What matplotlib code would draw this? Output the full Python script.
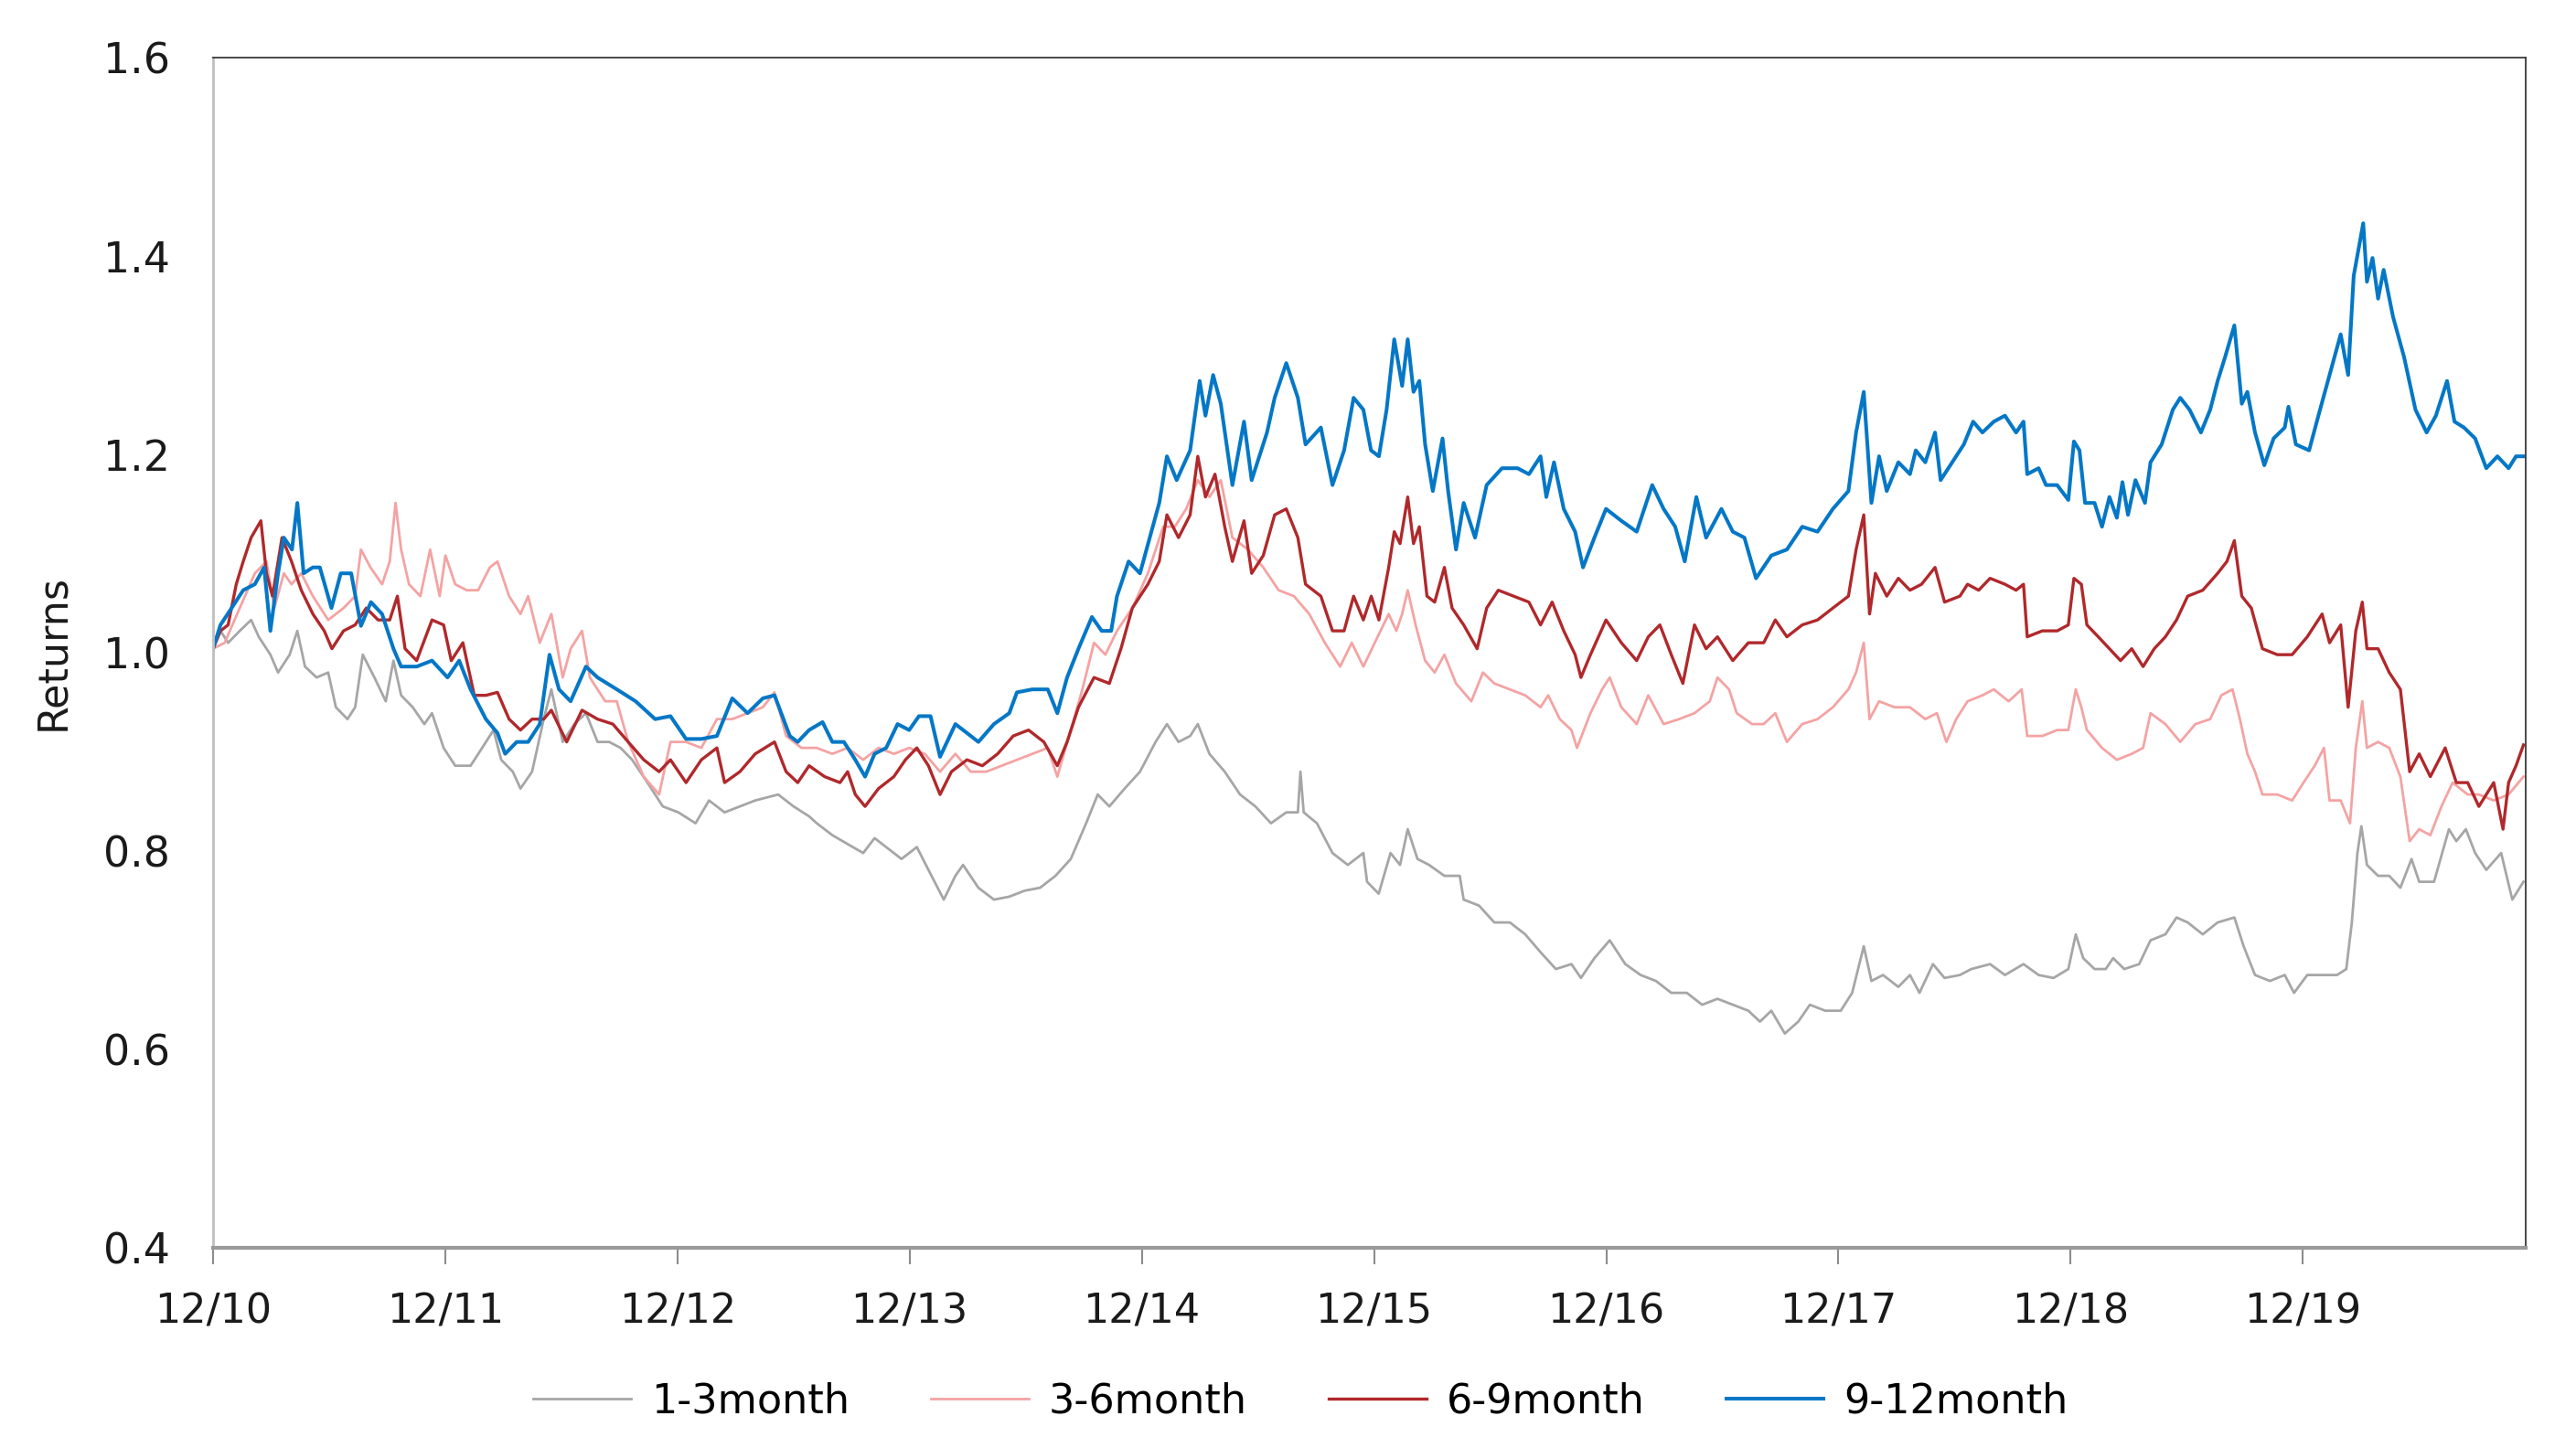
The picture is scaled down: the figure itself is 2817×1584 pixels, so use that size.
import matplotlib.pyplot as plt

# years since Dec 2010
t_13 = [0, .032, .065, .115, .164, .197, .247, .28, .33, .363, .396, .446, .496, .529, .579, .612, .645, .695,
        .744, .777, .81, .86, .91, .943, .993, 1.043, 1.109, 1.159, 1.208, 1.241, 1.291, 1.324, 1.374, 1.424,
        1.457, 1.506, 1.556, 1.606, 1.656, 1.706, 1.755, 1.805, 1.871, 1.937, 2.004, 2.078, 2.136, 2.203, 2.269,
        2.335, 2.434, 2.5, 2.567, 2.6, 2.667, 2.733, 2.8, 2.849, 2.899, 2.965, 3.031, 3.081, 3.147, 3.197, 3.23,
        3.296, 3.363, 3.429, 3.495, 3.562, 3.628, 3.694, 3.76, 3.81, 3.86, 3.926, 3.992, 4.059, 4.108, 4.158,
        4.208, 4.241, 4.291, 4.357, 4.423, 4.489, 4.556, 4.622, 4.672, 4.683, 4.697, 4.754, 4.821, 4.887, 4.954,
        4.97, 5.02, 5.071, 5.112, 5.145, 5.187, 5.237, 5.303, 5.369, 5.386, 5.452, 5.518, 5.585, 5.651, 5.717,
        5.783, 5.85, 5.891, 5.949, 6.015, 6.082, 6.148, 6.214, 6.28, 6.347, 6.413, 6.479, 6.545, 6.612, 6.662,
        6.711, 6.769, 6.827, 6.877, 6.943, 7.01, 7.059, 7.109, 7.142, 7.192, 7.258, 7.308, 7.349, 7.407, 7.457,
        7.523, 7.572, 7.653, 7.717, 7.797, 7.862, 7.926, 7.99, 8.022, 8.054, 8.103, 8.151, 8.183, 8.231, 8.295,
        8.344, 8.408, 8.456, 8.504, 8.569, 8.633, 8.705, 8.745, 8.794, 8.858, 8.922, 8.962, 9.019, 9.083, 9.147,
        9.187, 9.211, 9.235, 9.252, 9.276, 9.324, 9.372, 9.42, 9.468, 9.501, 9.565, 9.629, 9.661, 9.702, 9.742,
        9.79, 9.854, 9.902, 9.95]
v_13 = [1.004, 1.022, 1.01, 1.022, 1.033, 1.016, .998, .98, .998, 1.022, .986, .975, .98, .945, .933, .945, .998,
        .975, .951, .992, .957, .945, .928, .939, .904, .886, .886, .904, .922, .892, .88, .863, .88, .933, .963,
        .91, .928, .939, .91, .91, .904, .892, .869, .845, .839, .828, .851, .839, .845, .851, .857, .845, .835,
        .828, .816, .807, .798, .813, .804, .792, .804, .781, .751, .775, .786, .763, .751, .754, .76, .763, .775,
        .792, .828, .857, .845, .863, .88, .91, .928, .91, .916, .928, .898, .88, .857, .845, .828, .839, .839,
        .88, .839, .828, .798, .786, .798, .769, .757, .798, .786, .822, .792, .786, .775, .775, .751, .745, .728,
        .728, .716, .698, .681, .686, .672, .692, .71, .686, .675, .669, .657, .657, .645, .651, .645, .639, .628,
        .639, .616, .628, .645, .639, .639, .657, .704, .669, .675, .663, .675, .657, .686, .672, .675, .681, .686,
        .675, .686, .675, .672, .681, .716, .692, .681, .681, .692, .681, .686, .71, .716, .733, .728, .716, .728,
        .733, .704, .675, .669, .675, .657, .675, .675, .675, .681, .728, .798, .825, .786, .775, .775, .763, .792,
        .769, .769, .822, .81, .822, .798, .781, .798, .751, .769]

t_36 = [0, .05, .115, .18, .23, .264, .305, .338, .38, .43, .496, .562, .612, .637, .678, .728, .761, .786, .81,
        .844, .893, .935, .976, 1.001, 1.043, 1.092, 1.142, 1.192, 1.225, 1.275, 1.324, 1.357, 1.407, 1.457,
        1.506, 1.54, 1.589, 1.623, 1.689, 1.739, 1.788, 1.855, 1.921, 1.97, 2.037, 2.103, 2.17, 2.236, 2.302,
        2.368, 2.418, 2.468, 2.534, 2.6, 2.667, 2.733, 2.8, 2.866, 2.932, 2.998, 3.065, 3.131, 3.197, 3.263,
        3.33, 3.396, 3.462, 3.528, 3.595, 3.636, 3.694, 3.744, 3.794, 3.843, 3.893, 3.959, 4.026, 4.092, 4.142,
        4.191, 4.241, 4.291, 4.34, 4.39, 4.457, 4.523, 4.589, 4.655, 4.721, 4.788, 4.854, 4.904, 4.954, 5.003,
        5.063, 5.096, 5.121, 5.145, 5.179, 5.22, 5.261, 5.303, 5.353, 5.419, 5.469, 5.518, 5.585, 5.651, 5.717,
        5.75, 5.8, 5.85, 5.874, 5.932, 5.982, 6.015, 6.065, 6.131, 6.181, 6.247, 6.314, 6.38, 6.446, 6.479,
        6.529, 6.562, 6.628, 6.678, 6.728, 6.778, 6.844, 6.91, 6.976, 7.043, 7.076, 7.109, 7.134, 7.175, 7.241,
        7.308, 7.374, 7.424, 7.465, 7.507, 7.556, 7.62, 7.669, 7.733, 7.789, 7.813, 7.878, 7.942, 7.99, 8.022,
        8.046, 8.07, 8.135, 8.199, 8.263, 8.312, 8.344, 8.408, 8.472, 8.537, 8.601, 8.649, 8.697, 8.729, 8.761,
        8.794, 8.826, 8.89, 8.954, 9.003, 9.051, 9.091, 9.115, 9.163, 9.203, 9.228, 9.256, 9.276, 9.324, 9.372,
        9.42, 9.46, 9.501, 9.549, 9.597, 9.645, 9.71, 9.758, 9.822, 9.886, 9.95]
v_36 = [1.004, 1.01, 1.045, 1.08, 1.092, 1.045, 1.08, 1.069, 1.08, 1.057, 1.033, 1.045, 1.057, 1.104, 1.086,
        1.069, 1.092, 1.151, 1.104, 1.069, 1.057, 1.104, 1.057, 1.098, 1.069, 1.063, 1.063, 1.086, 1.092, 1.057,
        1.039, 1.057, 1.01, 1.039, .975, 1.004, 1.022, .975, .951, .951, .91, .875, .857, .91, .91, .904, .933,
        .933, .939, .945, .96, .916, .904, .904, .898, .904, .892, .904, .898, .904, .898, .88, .898, .88, .88,
        .886, .892, .898, .904, .875, .922, .963, 1.01, .998, 1.022, 1.045, 1.08, 1.127, 1.127, 1.145, 1.174,
        1.157, 1.174, 1.116, 1.104, 1.086, 1.063, 1.057, 1.039, 1.01, .986, 1.01, .986, 1.01, 1.039, 1.022,
        1.039, 1.063, 1.028, .992, .98, .998, .969, .951, .98, .969, .963, .957, .945, .957, .933, .922, .904,
        .939, .963, .975, .945, .928, .957, .928, .933, .939, .951, .975, .963, .939, .928, .928, .939, .91, .928,
        .933, .945, .963, .98, 1.01, .933, .951, .945, .945, .933, .939, .91, .933, .951, .957, .963, .951, .963,
        .916, .916, .922, .922, .963, .945, .922, .904, .892, .898, .904, .939, .928, .91, .928, .933, .957, .963,
        .933, .898, .88, .857, .857, .851, .869, .886, .904, .851, .851, .828, .904, .951, .904, .91, .904, .875,
        .81, .822, .816, .845, .869, .857, .857, .851, .857, .875]

t_69 = [0, .032, .065, .1, .13, .164, .206, .23, .256, .297, .338, .38, .43, .479, .512, .562, .612, .66, .711,
        .761, .794, .827, .877, .943, .993, 1.026, 1.076, 1.125, 1.175, 1.225, 1.275, 1.324, 1.374, 1.424, 1.457,
        1.523, 1.589, 1.656, 1.722, 1.788, 1.855, 1.921, 1.97, 2.037, 2.103, 2.17, 2.203, 2.269, 2.335, 2.418,
        2.468, 2.518, 2.567, 2.634, 2.7, 2.733, 2.766, 2.808, 2.866, 2.932, 2.982, 3.031, 3.081, 3.131, 3.18,
        3.247, 3.313, 3.379, 3.446, 3.512, 3.578, 3.636, 3.678, 3.727, 3.794, 3.86, 3.91, 3.959, 4.026, 4.075,
        4.108, 4.158, 4.208, 4.241, 4.274, 4.315, 4.357, 4.39, 4.44, 4.473, 4.523, 4.572, 4.622, 4.672, 4.705,
        4.771, 4.821, 4.871, 4.912, 4.954, 4.988, 5.021, 5.063, 5.087, 5.112, 5.145, 5.17, 5.195, 5.228, 5.261,
        5.303, 5.336, 5.386, 5.444, 5.485, 5.535, 5.601, 5.667, 5.717, 5.767, 5.817, 5.866, 5.891, 5.932, 5.999,
        6.065, 6.131, 6.181, 6.231, 6.28, 6.33, 6.38, 6.43, 6.479, 6.545, 6.612, 6.678, 6.728, 6.778, 6.844,
        6.91, 6.976, 7.043, 7.076, 7.109, 7.134, 7.159, 7.208, 7.258, 7.308, 7.358, 7.416, 7.457, 7.523, 7.556,
        7.604, 7.653, 7.717, 7.765, 7.797, 7.813, 7.878, 7.942, 7.99, 8.014, 8.046, 8.07, 8.119, 8.167, 8.215,
        8.263, 8.312, 8.36, 8.408, 8.456, 8.504, 8.569, 8.633, 8.673, 8.705, 8.737, 8.778, 8.826, 8.89, 8.954,
        9.019, 9.083, 9.115, 9.163, 9.195, 9.228, 9.256, 9.276, 9.324, 9.372, 9.42, 9.46, 9.501, 9.549, 9.613,
        9.661, 9.71, 9.758, 9.822, 9.862, 9.886, 9.918, 9.95]
v_69 = [1.004, 1.022, 1.028, 1.069, 1.092, 1.116, 1.133, 1.08, 1.057, 1.116, 1.092, 1.063, 1.039, 1.022, 1.004,
        1.022, 1.028, 1.045, 1.033, 1.033, 1.057, 1.004, .992, 1.033, 1.028, .992, 1.01, .957, .957, .96, .933,
        .922, .933, .933, .942, .91, .942, .933, .928, .91, .892, .88, .892, .869, .892, .904, .869, .88, .898,
        .91, .88, .869, .886, .875, .869, .88, .857, .845, .863, .875, .892, .904, .886, .857, .88, .892, .886,
        .898, .916, .922, .91, .886, .91, .945, .975, .969, 1.004, 1.045, 1.069, 1.092, 1.139, 1.116, 1.139,
        1.198, 1.157, 1.18, 1.127, 1.092, 1.133, 1.08, 1.098, 1.139, 1.145, 1.116, 1.069, 1.057, 1.022, 1.022,
        1.057, 1.033, 1.057, 1.033, 1.086, 1.122, 1.11, 1.157, 1.11, 1.127, 1.057, 1.051, 1.086, 1.045, 1.028,
        1.004, 1.045, 1.063, 1.057, 1.051, 1.028, 1.051, 1.022, .998, .975, .998, 1.033, 1.01, .992, 1.016,
        1.028, .998, .969, 1.028, 1.004, 1.016, .992, 1.01, 1.01, 1.033, 1.016, 1.028, 1.033, 1.045, 1.057,
        1.104, 1.139, 1.039, 1.08, 1.057, 1.075, 1.063, 1.069, 1.086, 1.051, 1.057, 1.069, 1.063, 1.075, 1.069,
        1.063, 1.069, 1.016, 1.022, 1.022, 1.028, 1.075, 1.069, 1.028, 1.016, 1.004, .992, 1.004, .986, 1.004,
        1.016, 1.033, 1.057, 1.063, 1.08, 1.092, 1.113, 1.057, 1.045, 1.004, .998, .998, 1.016, 1.039, 1.01,
        1.028, .945, 1.022, 1.051, 1.004, 1.004, .98, .963, .88, .898, .875, .904, .869, .869, .845, .869, .822,
        .869, .886, .907]

t_912 = [0, .032, .08, .13, .18, .22, .247, .28, .305, .34, .363, .39, .43, .46, .51, .55, .595, .637, .68, .728,
         .777, .81, .877, .943, 1.01, 1.06, 1.109, 1.175, 1.225, 1.258, 1.308, 1.357, 1.407, 1.449, 1.49, 1.54,
         1.606, 1.656, 1.739, 1.82, 1.904, 1.97, 2.037, 2.103, 2.17, 2.236, 2.302, 2.368, 2.418, 2.484, 2.518,
         2.567, 2.625, 2.667, 2.717, 2.766, 2.808, 2.849, 2.899, 2.948, 2.998, 3.04, 3.09, 3.131, 3.197, 3.247,
         3.296, 3.363, 3.429, 3.462, 3.528, 3.595, 3.636, 3.678, 3.727, 3.785, 3.827, 3.868, 3.893, 3.943, 3.992,
         4.034, 4.075, 4.108, 4.15, 4.208, 4.249, 4.274, 4.307, 4.34, 4.39, 4.44, 4.473, 4.539, 4.572, 4.622,
         4.672, 4.705, 4.771, 4.821, 4.871, 4.912, 4.954, 4.987, 5.021, 5.054, 5.087, 5.121, 5.145, 5.17, 5.195,
         5.22, 5.253, 5.295, 5.319, 5.353, 5.386, 5.435, 5.485, 5.551, 5.618, 5.667, 5.717, 5.742, 5.775, 5.817,
         5.866, 5.9, 5.949, 5.999, 6.065, 6.131, 6.198, 6.247, 6.297, 6.338, 6.388, 6.43, 6.496, 6.545, 6.595,
         6.645, 6.711, 6.778, 6.844, 6.91, 6.976, 7.043, 7.076, 7.109, 7.142, 7.175, 7.208, 7.258, 7.308, 7.333,
         7.374, 7.416, 7.44, 7.49, 7.54, 7.58, 7.62, 7.669, 7.717, 7.765, 7.797, 7.813, 7.862, 7.894, 7.942,
         7.99, 8.014, 8.038, 8.062, 8.103, 8.135, 8.167, 8.199, 8.223, 8.247, 8.279, 8.32, 8.344, 8.392, 8.44,
         8.472, 8.512, 8.561, 8.601, 8.633, 8.665, 8.705, 8.737, 8.761, 8.794, 8.834, 8.874, 8.922, 8.938, 8.97,
         9.027, 9.067, 9.115, 9.163, 9.195, 9.219, 9.26, 9.276, 9.3, 9.324, 9.348, 9.388, 9.436, 9.485, 9.533,
         9.573, 9.621, 9.653, 9.694, 9.742, 9.79, 9.838, 9.886, 9.918, 9.95]
v_912 = [1.004, 1.028, 1.045, 1.063, 1.069, 1.086, 1.022, 1.08, 1.116, 1.104, 1.151, 1.08, 1.086, 1.086, 1.045,
         1.08, 1.08, 1.027, 1.051, 1.039, 1.004, .986, .986, .992, .975, .992, .963, .933, .919, .898, .91, .91,
         .928, .998, .963, .951, .986, .975, .963, .951, .933, .936, .913, .913, .916, .954, .939, .954, .957,
         .916, .91, .922, .93, .91, .91, .892, .875, .898, .904, .928, .922, .936, .936, .895, .928, .919, .91,
         .928, .939, .96, .963, .963, .939, .975, 1.004, 1.036, 1.022, 1.022, 1.057, 1.092, 1.08, 1.116, 1.151,
         1.198, 1.174, 1.204, 1.274, 1.239, 1.28, 1.251, 1.169, 1.233, 1.174, 1.222, 1.257, 1.292, 1.257, 1.21,
         1.227, 1.169, 1.204, 1.257, 1.245, 1.204, 1.198, 1.245, 1.316, 1.269, 1.316, 1.263, 1.274, 1.21, 1.163,
         1.216, 1.163, 1.104, 1.151, 1.116, 1.169, 1.186, 1.186, 1.18, 1.198, 1.157, 1.192, 1.145, 1.122, 1.086,
         1.116, 1.145, 1.133, 1.122, 1.169, 1.145, 1.127, 1.092, 1.157, 1.116, 1.145, 1.122, 1.116, 1.075, 1.098,
         1.104, 1.127, 1.122, 1.145, 1.163, 1.222, 1.263, 1.151, 1.198, 1.163, 1.192, 1.18, 1.204, 1.192, 1.222,
         1.174, 1.192, 1.21, 1.233, 1.222, 1.233, 1.239, 1.222, 1.233, 1.18, 1.186, 1.169, 1.169, 1.154, 1.213,
         1.204, 1.151, 1.151, 1.127, 1.157, 1.136, 1.172, 1.139, 1.174, 1.151, 1.192, 1.21, 1.245, 1.257, 1.245,
         1.222, 1.245, 1.274, 1.298, 1.33, 1.251, 1.263, 1.222, 1.189, 1.216, 1.227, 1.248, 1.21, 1.204, 1.239,
         1.28, 1.321, 1.28, 1.38, 1.433, 1.374, 1.398, 1.357, 1.386, 1.339, 1.298, 1.245, 1.222, 1.239, 1.274,
         1.233, 1.227, 1.216, 1.186, 1.198, 1.186, 1.198, 1.198]

series = ['1-3month', '3-6month', '6-9month', '9-12month']
colors = ['#A6A6A6', '#F4A3A3', '#B0282B', '#0477C6']
widths = [2.0, 2.0, 2.4, 2.9]
tick_labels = ['12/10', '12/11', '12/12', '12/13', '12/14', '12/15', '12/16', '12/17', '12/18', '12/19']

fig = plt.figure(figsize=(28.17, 15.84), dpi=100)
ax = fig.add_axes([0.0827, 0.1383, 0.8978, 0.8219])

for (t, v), name, c, lw in zip([(t_13, v_13), (t_36, v_36), (t_69, v_69), (t_912, v_912)], series, colors, widths):
    ax.plot(t, v, color=c, lw=lw, label=name)

ax.set_xlim(0, 9.96)
ax.set_ylim(0.4, 1.6)
ax.set_yticks([0.4, 0.6, 0.8, 1.0, 1.2, 1.4, 1.6])
ax.set_yticklabels(['0.4', '0.6', '0.8', '1.0', '1.2', '1.4', '1.6'], fontsize=33)
ax.set_xticks(range(len(tick_labels)))
ax.set_xticklabels(tick_labels, fontsize=32)
ax.tick_params(axis='y', length=0, pad=34, colors='#1a1a1a')
ax.tick_params(axis='x', length=13, width=1.5, color='#8C8C8C', pad=22, labelcolor='#1a1a1a')

for side in ['top', 'right']:
    ax.spines[side].set_color('#3a3a3a')
    ax.spines[side].set_linewidth(1.3)
ax.spines['left'].set_color('#BFBFBF')
ax.spines['left'].set_linewidth(2)
ax.spines['bottom'].set_color('#9A9A9A')
ax.spines['bottom'].set_linewidth(3)

ax.set_ylabel('Returns', fontsize=32, color='#1a1a1a')
ax.yaxis.set_label_coords(-0.061, 0.5)

fig.legend(loc='center', bbox_to_anchor=(0.505, 0.032), ncol=4, frameon=False,
           prop={'size': 32}, handlelength=2.4, handletextpad=0.5, columnspacing=2.0)

plt.savefig('out.png', dpi=100)
